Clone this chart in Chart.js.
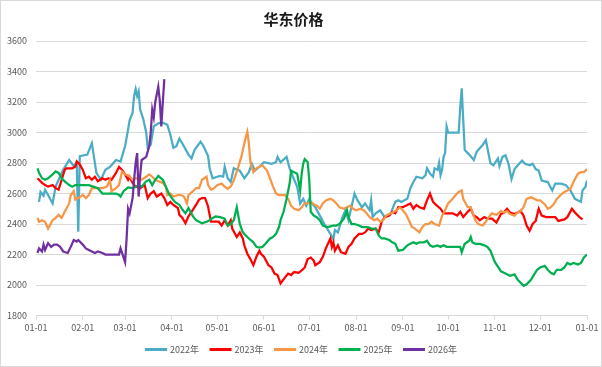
<!DOCTYPE html>
<html>
<head>
<meta charset="utf-8">
<script src="https://cdn.jsdelivr.net/npm/chart.js@4.4.1/dist/chart.umd.min.js"></script>
<style>
  html, body { margin: 0; padding: 0; background: #fff; }
  #wrap { width: 602px; height: 367px; position: relative; }
</style>
</head>
<body>
<div id="wrap"><canvas id="priceChart"></canvas></div>
<script>
// x axis is day of year (0 = 01-01, 365 = next 01-01)
const monthStarts = [0, 31, 59, 90, 120, 151, 181, 212, 243, 273, 304, 334, 365];
const monthLabels = ['01-01', '02-01', '03-01', '04-01', '05-01', '06-01', '07-01',
  '08-01', '09-01', '10-01', '11-01', '12-01', '01-01'];

const seriesNames = ['2022年', '2023年', '2024年', '2025年', '2026年'];
const seriesColors = ['#4BACC6', '#FF0000', '#F79646', '#00B050', '#7030A0'];

const days2022 = [2, 3, 5, 6, 8, 11, 13, 15, 18, 22, 25, 27, 28, 29, 34, 37, 40, 43, 46, 49, 53, 56, 59, 61, 62, 64, 65, 66, 67, 68, 69, 71, 73, 74, 76, 78, 81, 84, 87, 89, 91, 93, 95, 98, 101, 103, 105, 109, 111, 114, 115, 117, 120, 122, 124, 125, 127, 129, 131, 135, 138, 141, 143, 145, 149, 151, 156, 159, 160, 162, 166, 168, 171, 173, 175, 177, 179, 181, 182, 185, 188, 191, 195, 197, 198, 200, 203, 205, 207, 211, 213, 216, 218, 221, 222, 223, 225, 228, 231, 235, 238, 240, 242, 244, 246, 248, 250, 252, 256, 258, 259, 261, 263, 264, 266, 267, 268, 269, 270, 271, 272, 273, 280, 281, 282, 283, 284, 287, 290, 292, 296, 298, 301, 303, 306, 307, 309, 311, 313, 315, 317, 320, 322, 324, 327, 329, 331, 333, 335, 339, 342, 344, 348, 351, 354, 357, 361, 362, 364, 365];
const price2022 = [2545, 2610, 2585, 2625, 2590, 2535, 2645, 2690, 2755, 2820, 2780, 2800, 2350, 2845, 2855, 2930, 2735, 2690, 2755, 2775, 2820, 2810, 2910, 3020, 3080, 3130, 3240, 3285, 3240, 3270, 3150, 3090, 3000, 2900, 2920, 3040, 3060, 3065, 3050, 2985, 2900, 2910, 2960, 2910, 2855, 2830, 2885, 2940, 2910, 2845, 2765, 2700, 2710, 2715, 2710, 2775, 2700, 2675, 2765, 2750, 2700, 2740, 2795, 2750, 2785, 2805, 2795, 2805, 2840, 2805, 2840, 2765, 2690, 2645, 2535, 2565, 2520, 2565, 2545, 2510, 2455, 2400, 2335, 2300, 2360, 2345, 2445, 2490, 2425, 2600, 2555, 2510, 2535, 2490, 2555, 2445, 2470, 2490, 2445, 2470, 2545, 2555, 2545, 2555, 2565, 2635, 2675, 2710, 2700, 2720, 2765, 2730, 2710, 2765, 2755, 2800, 2720, 2755, 2840, 2865, 3040, 3000, 3000, 3160, 3290, 3085, 2885, 2855, 2820, 2875, 2920, 2950, 2800, 2785, 2830, 2780, 2840, 2850, 2795, 2695, 2760, 2795, 2815, 2795, 2785, 2795, 2760, 2750, 2685, 2675, 2620, 2665, 2665, 2655, 2620, 2565, 2545, 2620, 2645, 2685];

const days2023 = [1, 2, 4, 6, 8, 11, 13, 15, 17, 19, 20, 24, 26, 27, 29, 31, 33, 35, 37, 39, 41, 44, 46, 48, 50, 53, 55, 57, 59, 61, 62, 64, 66, 69, 72, 74, 76, 78, 80, 83, 85, 87, 89, 91, 94, 95, 97, 99, 101, 104, 106, 108, 110, 112, 114, 115, 116, 118, 121, 123, 125, 127, 129, 130, 133, 135, 137, 138, 140, 142, 144, 146, 148, 149, 151, 154, 156, 158, 160, 162, 165, 167, 169, 171, 174, 176, 178, 180, 182, 184, 185, 188, 190, 192, 195, 196, 197, 198, 200, 202, 205, 207, 209, 211, 214, 216, 218, 220, 222, 225, 227, 229, 231, 234, 236, 238, 240, 243, 246, 248, 250, 252, 254, 257, 259, 261, 263, 265, 268, 270, 276, 279, 281, 283, 286, 288, 290, 292, 294, 297, 299, 302, 305, 308, 310, 312, 314, 317, 319, 321, 323, 325, 327, 329, 331, 333, 335, 338, 344, 346, 350, 352, 355, 357, 360, 362];
const price2023 = [2700, 2690, 2670, 2655, 2645, 2655, 2635, 2625, 2690, 2755, 2765, 2765, 2775, 2810, 2790, 2755, 2700, 2710, 2690, 2710, 2680, 2700, 2690, 2700, 2690, 2735, 2775, 2755, 2725, 2690, 2710, 2670, 2645, 2635, 2655, 2570, 2600, 2615, 2580, 2600, 2570, 2525, 2545, 2525, 2505, 2460, 2440, 2405, 2450, 2495, 2525, 2560, 2570, 2570, 2515, 2460, 2415, 2415, 2415, 2390, 2425, 2390, 2425, 2370, 2315, 2345, 2305, 2260, 2205, 2170, 2130, 2185, 2225, 2205, 2185, 2130, 2115, 2075, 2065, 2010, 2050, 2075, 2065, 2085, 2080, 2095, 2115, 2170, 2180, 2160, 2130, 2150, 2185, 2240, 2305, 2250, 2280, 2225, 2260, 2215, 2205, 2250, 2270, 2305, 2335, 2335, 2345, 2370, 2360, 2370, 2345, 2415, 2445, 2455, 2480, 2470, 2510, 2510, 2525, 2535, 2500, 2525, 2510, 2500, 2555, 2600, 2545, 2525, 2500, 2470, 2470, 2455, 2480, 2445, 2480, 2500, 2455, 2445, 2425, 2445, 2435, 2435, 2410, 2465, 2475, 2500, 2475, 2465, 2475, 2485, 2455, 2390, 2355, 2400, 2420, 2500, 2455, 2445, 2445, 2420, 2430, 2445, 2500, 2475, 2445, 2430];

const days2024 = [1, 2, 4, 6, 8, 11, 13, 15, 17, 19, 22, 23, 25, 26, 28, 31, 33, 35, 37, 44, 47, 49, 50, 53, 55, 57, 59, 61, 62, 64, 66, 68, 70, 73, 75, 77, 79, 81, 84, 86, 87, 89, 91, 94, 96, 98, 100, 101, 104, 106, 108, 110, 113, 114, 116, 118, 120, 123, 125, 127, 129, 131, 134, 136, 138, 139, 140, 141, 142, 144, 146, 148, 150, 153, 155, 157, 159, 161, 165, 167, 169, 171, 174, 176, 178, 180, 182, 184, 186, 188, 190, 192, 195, 197, 199, 201, 204, 206, 208, 210, 212, 215, 217, 219, 221, 224, 226, 228, 230, 232, 235, 237, 239, 241, 243, 245, 247, 249, 251, 254, 256, 258, 260, 262, 264, 267, 269, 271, 273, 276, 278, 280, 282, 283, 286, 288, 289, 291, 293, 296, 298, 300, 302, 305, 308, 310, 312, 314, 317, 319, 321, 323, 325, 328, 330, 332, 334, 337, 339, 341, 343, 345, 348, 350, 352, 354, 356, 359, 361, 363, 365];
const price2024 = [2440, 2415, 2425, 2415, 2370, 2425, 2440, 2460, 2440, 2480, 2535, 2590, 2615, 2560, 2570, 2590, 2570, 2590, 2635, 2635, 2645, 2690, 2615, 2635, 2655, 2745, 2725, 2720, 2710, 2690, 2700, 2700, 2690, 2710, 2725, 2710, 2690, 2680, 2670, 2645, 2590, 2600, 2580, 2590, 2590, 2580, 2535, 2590, 2615, 2635, 2635, 2690, 2710, 2655, 2625, 2635, 2655, 2665, 2645, 2630, 2645, 2685, 2775, 2840, 2930, 2970, 3005, 2930, 2805, 2740, 2765, 2775, 2785, 2750, 2700, 2645, 2600, 2590, 2590, 2565, 2520, 2500, 2490, 2510, 2535, 2535, 2545, 2530, 2520, 2500, 2535, 2555, 2565, 2555, 2535, 2510, 2500, 2510, 2520, 2500, 2490, 2500, 2490, 2470, 2445, 2425, 2435, 2415, 2425, 2455, 2470, 2480, 2490, 2510, 2490, 2465, 2425, 2380, 2370, 2345, 2380, 2400, 2400, 2415, 2400, 2390, 2455, 2490, 2535, 2565, 2590, 2610, 2620, 2565, 2510, 2510, 2480, 2425, 2400, 2390, 2415, 2445, 2470, 2460, 2485, 2475, 2485, 2465, 2455, 2475, 2485, 2510, 2565, 2575, 2565, 2555, 2555, 2530, 2500, 2510, 2530, 2565, 2595, 2610, 2620, 2630, 2675, 2730, 2740, 2740, 2760];

const days2025 = [1, 2, 4, 6, 8, 11, 13, 15, 17, 19, 22, 24, 26, 35, 38, 41, 44, 53, 55, 56, 58, 61, 64, 66, 68, 70, 73, 75, 77, 79, 81, 84, 86, 88, 90, 92, 95, 97, 99, 101, 104, 106, 108, 110, 113, 115, 117, 119, 122, 125, 127, 129, 131, 133, 135, 137, 139, 141, 144, 146, 148, 150, 152, 155, 157, 159, 161, 162, 164, 166, 168, 169, 171, 173, 175, 176, 177, 178, 180, 181, 182, 184, 186, 188, 190, 193, 195, 197, 199, 201, 204, 206, 207, 209, 211, 214, 216, 220, 222, 225, 227, 229, 231, 234, 236, 238, 240, 243, 246, 248, 250, 252, 254, 257, 259, 261, 263, 266, 268, 270, 272, 281, 282, 284, 287, 288, 289, 291, 294, 297, 299, 301, 303, 304, 306, 308, 310, 312, 314, 317, 319, 321, 323, 325, 328, 330, 332, 334, 337, 339, 341, 343, 345, 348, 350, 352, 354, 356, 359, 361, 363, 365];
const price2025 = [2765, 2735, 2700, 2690, 2700, 2725, 2745, 2735, 2700, 2680, 2655, 2645, 2655, 2655, 2645, 2635, 2600, 2600, 2590, 2580, 2615, 2640, 2635, 2645, 2655, 2645, 2680, 2690, 2655, 2690, 2715, 2690, 2645, 2600, 2570, 2545, 2525, 2495, 2470, 2505, 2450, 2425, 2415, 2405, 2415, 2425, 2440, 2450, 2445, 2435, 2390, 2400, 2425, 2510, 2400, 2345, 2325, 2305, 2280, 2250, 2245, 2250, 2270, 2305, 2315, 2335, 2380, 2425, 2480, 2565, 2665, 2750, 2740, 2730, 2620, 2730, 2795, 2825, 2805, 2690, 2480, 2455, 2445, 2425, 2390, 2380, 2385, 2390, 2390, 2400, 2435, 2490, 2445, 2400, 2400, 2390, 2380, 2380, 2370, 2370, 2325, 2305, 2305, 2295, 2280, 2270, 2225, 2230, 2260, 2270, 2280, 2270, 2280, 2280, 2290, 2260, 2250, 2260, 2250, 2260, 2250, 2250, 2215, 2270, 2290, 2315, 2280, 2270, 2270, 2260, 2250, 2225, 2175, 2150, 2120, 2090, 2080, 2070, 2060, 2070, 2035, 2015, 1995, 2005, 2035, 2070, 2100, 2115, 2125, 2100, 2080, 2070, 2100, 2100, 2115, 2145, 2135, 2145, 2135, 2145, 2180, 2200];

const days2026 = [1, 2, 4, 5, 6, 8, 10, 12, 14, 16, 18, 21, 23, 25, 27, 28, 31, 33, 35, 37, 39, 41, 44, 46, 55, 56, 57, 59, 60, 61, 62, 63, 64, 65, 66, 67, 68, 69, 70, 73, 75, 76, 77, 78, 79, 81, 82, 83, 84, 85];
const price2026 = [2210, 2240, 2220, 2265, 2230, 2275, 2250, 2265, 2265, 2250, 2220, 2210, 2250, 2295, 2285, 2295, 2265, 2240, 2230, 2220, 2210, 2220, 2210, 2200, 2200, 2240, 2210, 2150, 2300, 2500, 2470, 2520, 2570, 2690, 2800, 2865, 2580, 2720, 2820, 2840, 2910, 3000, 3150, 3100, 3200, 3300, 3210, 3040, 3200, 3350];

const seriesDays = [days2022, days2023, days2024, days2025, days2026];
const seriesPrices = [price2022, price2023, price2024, price2025, price2026];

const FONT = '"Noto Sans CJK SC", "Noto Sans", sans-serif';
Chart.defaults.font.family = FONT;

const datasets = seriesNames.map((name, i) => ({
  label: name,
  data: seriesDays[i].map((d, k) => ({ x: d, y: seriesPrices[i][k] })),
  borderColor: seriesColors[i],
  backgroundColor: seriesColors[i],
  borderWidth: 2.25,
  pointRadius: 0,
  tension: 0,
  fill: false,
  order: seriesNames.length - i   // later years drawn on top
}));

// white background + thin outer frame
const framePlugin = {
  id: 'frame',
  beforeDraw(chart) {
    const ctx = chart.ctx;
    ctx.save();
    ctx.fillStyle = '#fff';
    ctx.fillRect(0, 0, chart.width, chart.height);
    ctx.strokeStyle = '#D9D9D9';
    ctx.lineWidth = 1;
    ctx.strokeRect(0.5, 0.5, chart.width - 1, chart.height - 1);
    ctx.restore();
  }
};

// Excel-style legend row under the axis
const legendPlugin = {
  id: 'bottomLegend',
  afterDraw(chart) {
    const ctx = chart.ctx;
    const lineLen = 22, gap = 3, itemGap = 10.5, y = 349.5;
    ctx.save();
    ctx.font = '9px ' + FONT;
    const widths = chart.data.datasets.map(ds => lineLen + gap + ctx.measureText(ds.label).width);
    const total = widths.reduce((a, b) => a + b, 0) + itemGap * (widths.length - 1);
    let x = chart.width / 2 - total / 2;
    chart.data.datasets.forEach((ds, i) => {
      ctx.strokeStyle = ds.borderColor;
      ctx.lineWidth = 3;
      ctx.beginPath();
      ctx.moveTo(x, y);
      ctx.lineTo(x + lineLen, y);
      ctx.stroke();
      ctx.fillStyle = '#595959';
      ctx.textBaseline = 'middle';
      ctx.textAlign = 'left';
      ctx.fillText(ds.label, x + lineLen + gap, y);
      x += widths[i] + itemGap;
    });
    ctx.restore();
  }
};

new Chart(document.getElementById('priceChart').getContext('2d'), {
  type: 'line',
  data: { datasets },
  plugins: [framePlugin, legendPlugin],
  options: {
    responsive: true,
    maintainAspectRatio: false,
    animation: false,
    layout: { padding: { left: 0, right: 15, top: 0, bottom: 0 } },
    plugins: {
      legend: { display: false },
      tooltip: { enabled: false },
      title: {
        display: true,
        text: '华东价格',
        color: '#1a1a1a',
        font: { size: 15, weight: 'bold', family: FONT, lineHeight: 1.2 },
        padding: { top: 10, bottom: 13 }
      }
    },
    scales: {
      x: {
        type: 'linear',
        min: 0,
        max: 365,
        afterFit: (scale) => { scale.height = 51.5; },
        afterBuildTicks: (scale) => { scale.ticks = monthStarts.map(v => ({ value: v })); },
        ticks: {
          autoSkip: false,
          maxRotation: 0,
          padding: 3,
          color: '#595959',
          font: { size: 9 },
          callback: (value, index) => monthLabels[index]
        },
        grid: { drawOnChartArea: false, drawTicks: true, tickLength: 4, color: '#D9D9D9' },
        border: { display: true, color: '#D9D9D9', width: 1 }
      },
      y: {
        min: 1800,
        max: 3600,
        afterFit: (scale) => { scale.width = 36; },
        ticks: {
          stepSize: 200,
          padding: 9,
          color: '#595959',
          font: { size: 9 },
          callback: (value) => String(value)
        },
        grid: { color: '#D9D9D9', lineWidth: 1, drawTicks: false },
        border: { display: false }
      }
    }
  }
});
</script>
</body>
</html>
